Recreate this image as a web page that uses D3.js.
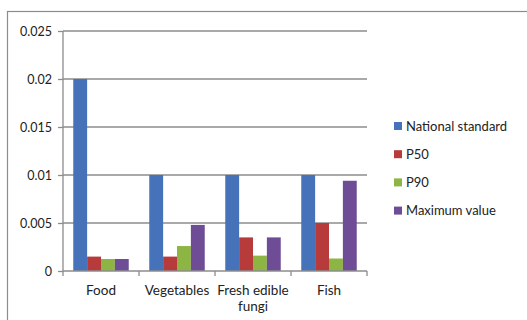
<!DOCTYPE html>
<html>
<head>
<meta charset="utf-8">
<script src="https://cdn.jsdelivr.net/npm/d3@7"></script>
<style>
  html, body { margin: 0; padding: 0; background: #fff; }
  svg { display: block; font-family: Lato, "Open Sans", sans-serif; }
</style>
</head>
<body>
<svg id="chart" width="527" height="320"></svg>
<script>
// Chart data
const categories = ["Food", "Vegetables", "Fresh edible fungi", "Fish"];
const seriesNames = ["National standard", "P50", "P90", "Maximum value"];
const nationalStandard = [0.02, 0.01, 0.01, 0.01];
const p50 = [0.0015, 0.0015, 0.0035, 0.005];
const p90 = [0.00125, 0.0026, 0.0016, 0.0013];
const maximumValue = [0.00125, 0.0048, 0.0035, 0.0094];
const yTicks = [0, 0.005, 0.01, 0.015, 0.02, 0.025];
const colors = ["#4572b8", "#b83b3b", "#8db543", "#6e4c96"];

const seriesValues = [nationalStandard, p50, p90, maximumValue];

const svg = d3.select("#chart");

// outer frame
svg.append("rect")
  .attr("x", 7.5).attr("y", 11.5)
  .attr("width", 540).attr("height", 330)
  .attr("fill", "none").attr("stroke", "#8c8c8c").attr("stroke-width", 1.2);

const plot = { left: 63, right: 367, top: 31, bottom: 271 };

const x0 = d3.scaleBand()
  .domain(categories)
  .range([plot.left, plot.right])
  .paddingInner(0).paddingOuter(0);

// bars sit in the middle of each category, with equal gaps on both sides
const groupGap = x0.bandwidth() * 0.135;
const x1 = d3.scaleBand()
  .domain(seriesNames)
  .range([groupGap, x0.bandwidth() - groupGap]);

const y = d3.scaleLinear()
  .domain([0, 0.025])
  .range([plot.bottom, plot.top]);

// gridlines
svg.append("g")
  .selectAll("line")
  .data(yTicks.filter(d => d > 0))
  .join("line")
  .attr("x1", plot.left).attr("x2", plot.right)
  .attr("y1", d => y(d)).attr("y2", d => y(d))
  .attr("stroke", "#8c8c8c").attr("stroke-width", 1.3);

// bars
const groups = svg.append("g")
  .selectAll("g")
  .data(categories)
  .join("g")
  .attr("transform", d => `translate(${x0(d)},0)`);

groups.selectAll("rect")
  .data((c, i) => seriesNames.map((s, k) => ({ s, k, v: seriesValues[k][i] })))
  .join("rect")
  .attr("x", d => x1(d.s))
  .attr("width", x1.bandwidth())
  .attr("y", d => y(d.v))
  .attr("height", d => y(0) - y(d.v))
  .attr("fill", d => colors[d.k]);

// y axis
const yAxis = d3.axisLeft(y)
  .tickValues(yTicks)
  .tickFormat(d => d === 0 ? "0" : String(+d.toFixed(3)))
  .tickSize(5)
  .tickPadding(6);

const gy = svg.append("g")
  .attr("transform", `translate(${plot.left},0)`)
  .call(yAxis);
gy.select(".domain").attr("stroke", "#8c8c8c").attr("stroke-width", 1.3)
  .attr("d", `M0,${plot.top}V${plot.bottom}`);
gy.selectAll(".tick line").attr("stroke", "#8c8c8c").attr("stroke-width", 1.3);
gy.selectAll(".tick text").attr("font-size", 12.5).attr("fill", "#222")
  .attr("font-family", "Lato, 'Open Sans', sans-serif");

// x axis
const xAxis = d3.axisBottom(x0).tickSize(0).tickFormat("");
const gx = svg.append("g")
  .attr("transform", `translate(0,${plot.bottom})`)
  .call(xAxis);
gx.select(".domain").attr("stroke", "#8c8c8c").attr("stroke-width", 1.3)
  .attr("d", `M${plot.left},0H${plot.right}`);

// category dividers
const dividers = categories.map(c => x0(c)).concat([x0.range()[1]]);
gx.selectAll(".divider")
  .data(dividers)
  .join("line")
  .attr("class", "divider")
  .attr("x1", d => d).attr("x2", d => d)
  .attr("y1", 0).attr("y2", 5)
  .attr("stroke", "#8c8c8c").attr("stroke-width", 1.3);

// category labels (wrapped)
const labelLines = {
  "Food": ["Food"],
  "Vegetables": ["Vegetables"],
  "Fresh edible fungi": ["Fresh edible", "fungi"],
  "Fish": ["Fish"]
};
const xl = svg.append("g");
categories.forEach(c => {
  const t = xl.append("text")
    .attr("x", x0(c) + x0.bandwidth() / 2)
    .attr("y", 295)
    .attr("text-anchor", "middle")
    .attr("font-size", 13.5)
    .attr("fill", "#222");
  labelLines[c].forEach((line, i) => {
    t.append("tspan")
      .attr("x", x0(c) + x0.bandwidth() / 2)
      .attr("dy", i === 0 ? 0 : 16)
      .text(line);
  });
});

// legend
const legend = svg.append("g").attr("transform", "translate(394,126)");
const items = legend.selectAll("g")
  .data(seriesNames)
  .join("g")
  .attr("transform", (d, i) => `translate(0,${i * 28.2})`);
items.append("rect")
  .attr("x", 0).attr("y", -4)
  .attr("width", 8).attr("height", 8)
  .attr("fill", (d, i) => colors[i]);
items.append("text")
  .attr("x", 12).attr("y", 0)
  .attr("dy", "0.35em")
  .attr("font-size", 13)
  .attr("fill", "#222")
  .text(d => d);
</script>
</body>
</html>
